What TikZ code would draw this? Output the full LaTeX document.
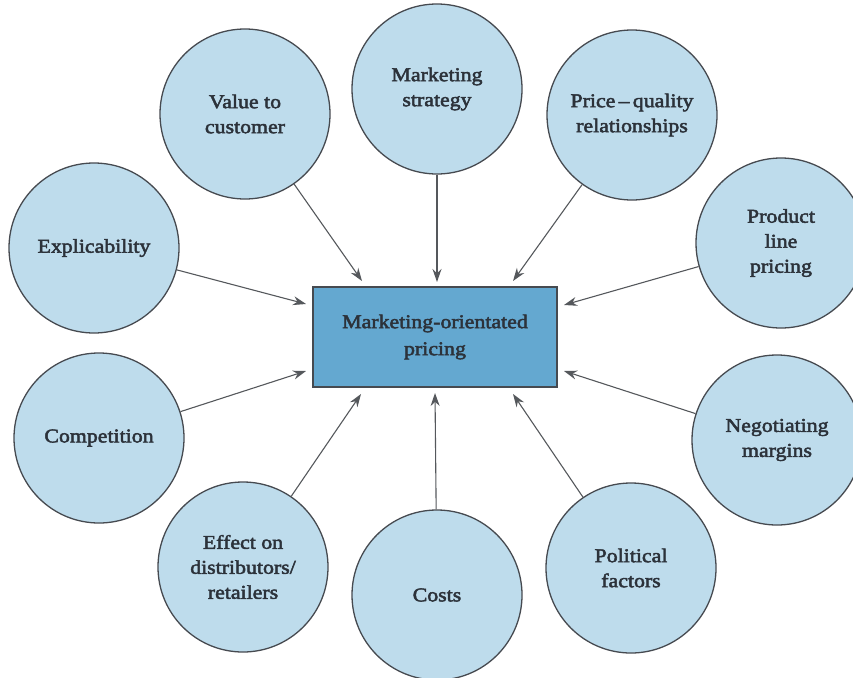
\documentclass[tikz,border=0pt]{standalone}
\usepackage{fontspec}
\setmainfont{Liberation Serif}[FakeStretch=1.12,FakeBold=2.5]
\usetikzlibrary{arrows.meta}
\definecolor{circfill}{RGB}{190,220,236}
\definecolor{boxfill}{RGB}{100,168,208}
\definecolor{edgecol}{RGB}{70,74,80}
\definecolor{txtcol}{RGB}{44,50,58}
\definecolor{arrcol}{RGB}{85,88,92}
\tikzset{
  factor/.style={circle, draw=edgecol, line width=1.3pt, fill=circfill, minimum size=170pt, inner sep=0pt, align=center, text=txtcol, font=\fontsize{19.5}{25}\selectfont},
  centrebox/.style={rectangle, draw=edgecol, line width=1.3pt, fill=boxfill, minimum width=244pt, minimum height=100pt, inner sep=0pt, align=center, text=txtcol, font=\fontsize{19.5}{27}\selectfont},
  link/.style={draw=arrcol, line width=1.1pt, -{Stealth[length=13pt,width=9pt]}}
}
\begin{document}
\begin{tikzpicture}[x=1pt,y=-1pt]
\useasboundingbox (0,0) rectangle (853,677);
\node[centrebox] (box) at (435,337) {Marketing-orientated\\pricing};
\node[factor] (value) at (245,114) {Value to\\customer};
\node[factor] (strat) at (437,89) {Marketing\\strategy};
\node[factor] (price) at (632,115) {Price\,--\,quality\\relationships};
\node[factor] (expl) at (94,248) {Explicability};
\node[factor] (prod) at (781,243) {Product\\line\\pricing};
\node[factor] (comp) at (99,438) {Competition};
\node[factor] (nego) at (777,440) {Negotiating\\margins};
\node[factor] (effect) at (243,567) {Effect on\\distributors/\\retailers};
\node[factor] (costs) at (437,595) {Costs};
\node[factor] (polit) at (631,568) {Political\\factors};
\coordinate (tvalue) at (362,281);
\coordinate (tstrat) at (437,282);
\coordinate (tprice) at (513,281);
\coordinate (texpl) at (306,304);
\coordinate (tcomp) at (306,371);
\coordinate (tprod) at (564,305);
\coordinate (tnego) at (564,371);
\coordinate (teffect) at (361,394);
\coordinate (tcosts) at (435,393);
\coordinate (tpolit) at (513,394);
\draw[link] (value) -- (tvalue);
\draw[link] (strat) -- (tstrat);
\draw[link] (price) -- (tprice);
\draw[link] (expl) -- (texpl);
\draw[link] (comp) -- (tcomp);
\draw[link] (prod) -- (tprod);
\draw[link] (nego) -- (tnego);
\draw[link] (effect) -- (teffect);
\draw[link] (costs) -- (tcosts);
\draw[link] (polit) -- (tpolit);
\end{tikzpicture}
\end{document}
